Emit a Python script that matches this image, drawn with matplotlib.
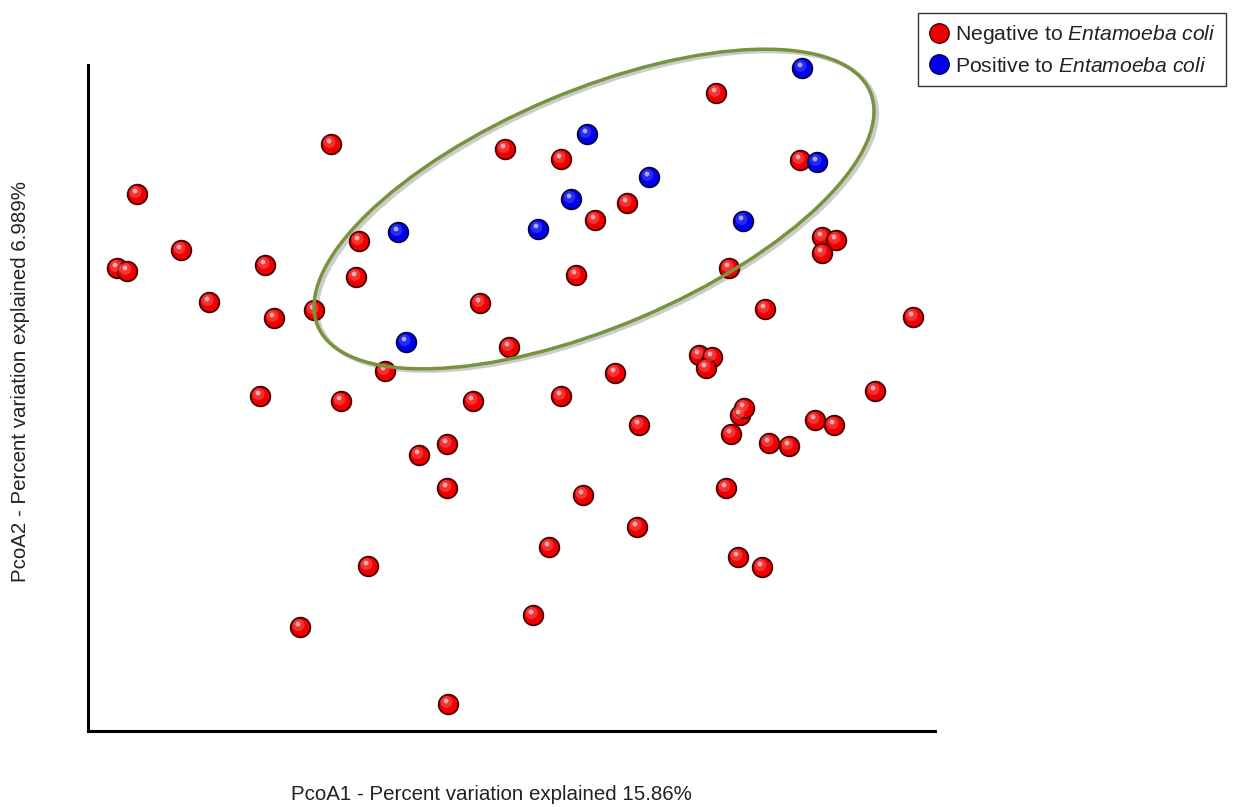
import numpy as np
import matplotlib.pyplot as plt
from matplotlib.patches import Ellipse
from matplotlib.lines import Line2D

plt.rcParams['font.family'] = ['Liberation Sans', 'DejaVu Sans']
plt.rcParams['mathtext.fontset'] = 'custom'
plt.rcParams['mathtext.it'] = 'Liberation Sans:italic'
plt.rcParams['mathtext.rm'] = 'Liberation Sans'

# Координаты точек (PcoA1, PcoA2), условные единицы
neg_x = [49, 29, 39, 93, 121, 177, 186, 226, 243, 271, 268, 172, 253, 297, 331,
         359, 359, 280, 212, 360, 445, 461, 385, 392, 421, 417, 473, 507, 488, 539,
         628, 473, 527, 551, 495, 549, 611, 624, 618, 641, 677, 638, 650, 674, 643,
         652, 656, 681, 701, 712, 734, 748, 734, 727, 746, 787, 825]
neg_y = [537, 463, 460, 481, 429, 466, 413, 421, 587, 490, 454, 335, 330, 360, 276,
         287, 243, 165, 104, 27, 116, 184, 330, 428, 384, 582, 572, 511, 456, 528,
         638, 335, 358, 306, 236, 204, 376, 374, 363, 463, 422, 243, 174, 164, 297,
         316, 323, 288, 285, 571, 494, 491, 478, 311, 306, 340, 414]

pos_x = [714, 499, 729, 561, 483, 655, 310, 450, 318]
pos_y = [663, 597, 569, 554, 532, 510, 499, 502, 389]

fig = plt.figure(figsize=(12.39, 8.07), dpi=100)
ax = fig.add_axes([88 / 1239, 76 / 807, 847 / 1239, 666 / 807])
ax.set_xlim(0, 847)
ax.set_ylim(0, 666)


def spheres(x, y, base, light, edge):
    x = np.array(x)
    y = np.array(y)
    ax.scatter(x, y, s=200, c=base, edgecolors=edge, linewidths=1.3, zorder=3, clip_on=False)
    ax.scatter(x - 1.5, y + 2, s=75, c=light, edgecolors='none', alpha=0.55, zorder=4, clip_on=False)
    ax.scatter(x - 2, y + 3, s=12, c='white', edgecolors='none', alpha=0.6, zorder=5, clip_on=False)


spheres(neg_x, neg_y, '#ee0000', '#ff5a5a', '#4a0000')
spheres(pos_x, pos_y, '#0000ee', '#4a4aff', '#00004a')

# Эллипс вокруг группы
shadow = Ellipse((509, 520), 600, 236, angle=23, fill=False, edgecolor='#cccccc',
                 linewidth=3, zorder=2, clip_on=False)
ax.add_patch(shadow)
ell = Ellipse((506, 522), 600, 236, angle=23, fill=False, edgecolor='#77933c',
              linewidth=2.5, zorder=6, clip_on=False)
ax.add_patch(ell)

for s in ['top', 'right']:
    ax.spines[s].set_visible(False)
for s in ['left', 'bottom']:
    ax.spines[s].set_linewidth(2.2)
    ax.spines[s].set_color('black')
ax.set_xticks([])
ax.set_yticks([])

fig.text(491 / 1239, 1 - 795 / 807, 'PcoA1 - Percent variation explained 15.86%',
         ha='center', va='center', fontsize=14.8, color='#222222')
fig.text(21 / 1239, 1 - 382 / 807, 'PcoA2 - Percent variation explained 6.989%',
         ha='center', va='center', rotation=90, fontsize=14.8, color='#222222')

handles = [
    Line2D([], [], marker='o', linestyle='none', markersize=14,
           markerfacecolor='#ee0000', markeredgecolor='#4a0000'),
    Line2D([], [], marker='o', linestyle='none', markersize=14,
           markerfacecolor='#0000ee', markeredgecolor='#00004a'),
]
labels = [r'Negative to $\it{Entamoeba\ coli}$', r'Positive to $\it{Entamoeba\ coli}$']
leg = fig.legend(handles, labels, loc='upper right', bbox_to_anchor=(1237 / 1239, 805 / 807),
                 fontsize=15.2, frameon=True, fancybox=False, edgecolor='black',
                 handletextpad=0.25, borderpad=0.5, labelspacing=0.5, handlelength=1.0)
leg.get_frame().set_linewidth(1.0)
for t in leg.get_texts():
    t.set_color('#222222')

fig.savefig('out.png', dpi=100)
